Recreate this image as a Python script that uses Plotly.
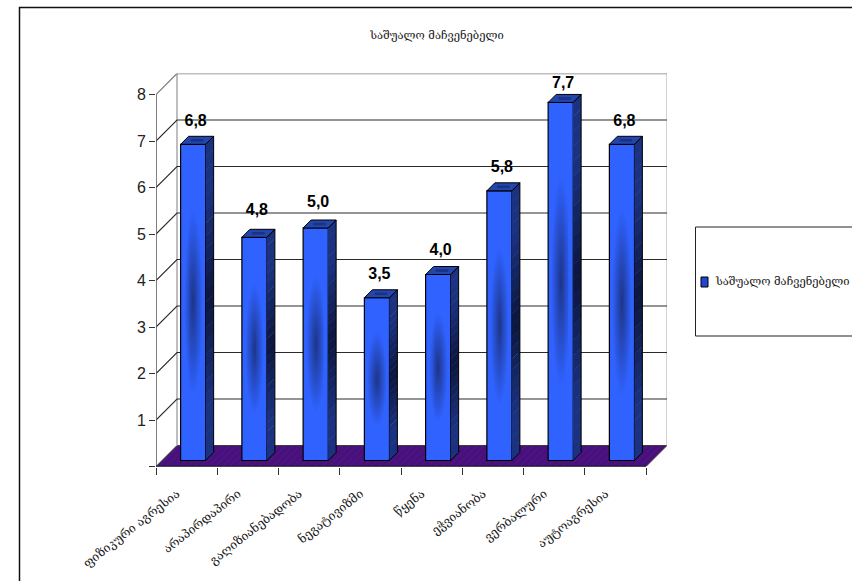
import numpy as np
import plotly.graph_objects as go

# Buss-Durkee subscale means
categories = ["ფიზიკური აგრესია", "არაპირდაპირი", "გაღიზიანებადობა", "ნეგატივიზმი",
              "წყენა", "ეჭვიანობა", "ვერბალური", "აუტოაგრესია"]
values = [6.8, 4.8, 5.0, 3.5, 4.0, 5.8, 7.7, 6.8]
y_ticks = [0, 1, 2, 3, 4, 5, 6, 7, 8]
y_tick_labels = ["", "1", "2", "3", "4", "5", "6", "7", "8"]
title_text = "საშუალო მაჩვენებელი"
series_name = "საშუალო მაჩვენებელი"

W, H = 852, 581
GEO_FONT = "DejaVu Serif"
NUM_FONT = "Liberation Sans, Arial, sans-serif"

# Pixel geometry of the front plane and the oblique depth of the box
PX_X0, PX_Y0 = 156.0, 466.5
PX_PER_CAT, PX_PER_UNIT = 61.25, 46.5
DEPTH_PX = 21.0
x_max = 8 + DEPTH_PX / PX_PER_CAT
y_max = 8 + DEPTH_PX / PX_PER_UNIT
DX, DY = DEPTH_PX / PX_PER_CAT, DEPTH_PX / PX_PER_UNIT

# Bars stand slightly inside the floor and have a shallow depth of their own
bar_dx, bar_dy = 6.5 / PX_PER_CAT, 6.0 / PX_PER_UNIT
bar_w = 25.0 / PX_PER_CAT
side_dx, side_dy = 8.0 / PX_PER_CAT, 8.0 / PX_PER_UNIT
centers = [i + 0.5 + bar_dx for i in range(len(values))]

# Clearance between each bar's front top edge and its value label
label_lift_px = [22, 26, 25, 23, 24, 23, 18, 22]

fig = go.Figure()


def poly(xs, ys, color, axes="", line=None, **kw):
    fig.add_trace(go.Scatter(
        x=xs, y=ys, mode="lines", fill="toself", fillcolor=color,
        line=line or dict(width=0, color=color),
        hoverinfo="skip", showlegend=False,
        xaxis="x" + axes, yaxis="y" + axes, **kw))


def seg(xs, ys, color, width=1.0):
    fig.add_trace(go.Scatter(
        x=xs, y=ys, mode="lines", line=dict(color=color, width=width),
        hoverinfo="skip", showlegend=False))


# Floor
poly([0, 8, 8 + DX, DX, 0], [0, 0, DY, DY, 0], "#47107a",
     line=dict(color="#3c3c3c", width=1),
     fillpattern=dict(shape="/", fgcolor="#551a8e", bgcolor="#47107a",
                      size=5, solidity=0.25))

# Back wall outline and gridlines, with their returns on the left wall
seg([DX, DX], [DY, 8 + DY], "#a8a8a8", 1.5)
seg([8 + DX, 8 + DX], [DY, 8 + DY], "#c4c4c4", 1.5)
seg([DX, 8 + DX], [8 + DY, 8 + DY], "#808080", 1.5)
seg([0, DX], [8, 8 + DY], "#808080", 1.2)
for t in y_ticks[1:-1]:
    seg([0, DX, 8 + DX], [t, t + DY, t + DY], "#2a2a2a", 1.1)
seg([0, 0], [0, 8], "#555555", 1.5)
seg([0, 8], [0, 0], "#111111", 1.5)

# Front faces
fig.add_trace(go.Bar(
    x=centers, y=values, base=bar_dy, width=bar_w, name=series_name,
    marker=dict(color="#2f62ff", line=dict(color="#000000", width=1.2)),
    hoverinfo="skip", showlegend=False, xaxis="x2", yaxis="y2"))

# Side faces: split into bands so they darken towards mid-height
n_bands = 24
for b in range(n_bands):
    t0, t1 = b / n_bands, (b + 1) / n_bands
    k = max(0.0, 1 - abs((t0 + t1) / 2 - 0.5) / 0.33)
    col = "rgb({},{},{})".format(int(26 - 14 * k), int(50 - 28 * k), int(128 - 66 * k))
    xs, ys = [], []
    for c, v in zip(centers, values):
        r = c + bar_w / 2
        lo, hi = bar_dy + v * t0, bar_dy + v * t1 + 0.01
        xs += [r, r + side_dx, r + side_dx, r, r, None]
        ys += [lo, lo + side_dy, hi + side_dy, hi, lo, None]
    poly(xs, ys, col, "2")

# Outlines of side and top faces, plus the top fill
for c, v in zip(centers, values):
    l, r = c - bar_w / 2, c + bar_w / 2
    top = bar_dy + v
    fig.add_trace(go.Scatter(
        x=[r, r + side_dx, r + side_dx, r], y=[bar_dy, bar_dy + side_dy, top + side_dy, top],
        mode="lines", line=dict(color="#000000", width=1), hoverinfo="skip",
        showlegend=False, xaxis="x2", yaxis="y2"))
    poly([l, r, r + side_dx, l + side_dx, l], [top, top, top + side_dy, top + side_dy, top],
         "#2346ad", "2", line=dict(color="#000000", width=1))
    poly([l + 0.25 * bar_w + side_dx / 2, r - 0.25 * bar_w + side_dx / 2,
          r - 0.25 * bar_w + side_dx / 2, l + 0.25 * bar_w + side_dx / 2],
         [top + 0.35 * side_dy, top + 0.35 * side_dy, top + 0.65 * side_dy, top + 0.65 * side_dy],
         "#1a3185", "2")

    # Front-face shading, dark in the middle of the bar; axes take cell edges
    inset_x, inset_y = 1.2 / PX_PER_CAT, 1.2 / PX_PER_UNIT
    n_cols, n_rows = 24, 160
    gx = np.linspace(l + inset_x, r - inset_x, n_cols + 1)
    gy = np.linspace(bar_dy + inset_y, top - inset_y, n_rows + 1)
    u = np.linspace(-1, 1, n_cols)
    w = np.linspace(-1, 1, n_rows)
    shade = np.clip(1 - np.sqrt((u[None, :] / 0.85) ** 2 + (w[:, None] / 0.6) ** 2), 0, 1)
    fig.add_trace(go.Heatmap(
        x=gx, y=gy, z=shade, zmin=0, zmax=1, showscale=False,
        colorscale=[[0, "#2f62ff"], [1, "#1d3488"]], hoverinfo="skip",
        xaxis="x3", yaxis="y3"))

# Value labels above each bar
fig.add_trace(go.Scatter(
    x=[c + 2.5 / PX_PER_CAT for c in centers],
    y=[bar_dy + v + lift / PX_PER_UNIT for v, lift in zip(values, label_lift_px)],
    mode="text", text=[f"{v:.1f}".replace(".", ",") for v in values],
    textposition="middle center", cliponaxis=False,
    textfont=dict(family=NUM_FONT, size=16, color="#000000", weight="bold"),
    hoverinfo="skip", showlegend=False, xaxis="x3", yaxis="y3"))

x_dom = [PX_X0 / W, (PX_X0 + x_max * PX_PER_CAT) / W]
y_dom = [1 - PX_Y0 / H, 1 - (PX_Y0 - y_max * PX_PER_UNIT) / H]

fig.update_layout(
    width=W, height=H, margin=dict(l=0, r=0, t=0, b=0, autoexpand=False),
    paper_bgcolor="#ffffff", plot_bgcolor="rgba(0,0,0,0)", showlegend=False,
    title=dict(text=title_text, x=437 / W, xanchor="center", y=1 - 35 / H, yanchor="middle",
               font=dict(family=GEO_FONT, size=11.2, color="#1a1a1a")),
    xaxis=dict(domain=x_dom, range=[0, x_max], tickmode="array",
               tickvals=list(range(9)), ticktext=[""] * 9, ticks="outside", ticklen=7,
               tickcolor="#333333", showgrid=False, zeroline=False, showline=False),
    yaxis=dict(domain=y_dom, range=[0, y_max], tickmode="array",
               tickvals=y_ticks, ticktext=y_tick_labels, ticks="outside", ticklen=6,
               tickcolor="#333333", showgrid=False, zeroline=False, showline=False,
               tickfont=dict(family=NUM_FONT, size=16, color="#222222")),
    xaxis2=dict(domain=x_dom, range=[0, x_max], overlaying="x", anchor="y2", tickmode="array",
                tickvals=[i + 0.34 for i in range(8)], ticktext=categories, tickangle=-38,
                ticks="", showgrid=False, zeroline=False, showline=False, automargin=False,
                ticklabelstandoff=17,
                tickfont=dict(family=GEO_FONT, size=12.2, color="#1a1a1a")),
    yaxis2=dict(domain=y_dom, range=[0, y_max], overlaying="y", anchor="x2", visible=False),
    xaxis3=dict(domain=x_dom, range=[0, x_max], overlaying="x", anchor="y3", visible=False),
    yaxis3=dict(domain=y_dom, range=[0, y_max], overlaying="y", anchor="x3", visible=False),
    shapes=[
        dict(type="rect", xref="paper", yref="paper", x0=19.5 / W, x1=1.02,
             y0=-0.02, y1=1 - 7.5 / H, line=dict(color="#111111", width=1.5), layer="below"),
        dict(type="rect", xref="paper", yref="paper", x0=695.5 / W, x1=1.02,
             y0=1 - 336 / H, y1=1 - 227 / H, line=dict(color="#222222", width=1), layer="below"),
        # Legend swatch
        dict(type="rect", xref="paper", yref="paper", x0=701 / W, x1=708 / W,
             y0=1 - 287 / H, y1=1 - 277 / H, fillcolor="#2346d0",
             line=dict(color="#000000", width=1)),
    ],
    annotations=[
        dict(text=series_name, xref="paper", yref="paper", x=713 / W, y=1 - 282 / H,
             xanchor="left", yanchor="middle", showarrow=False,
             font=dict(family=GEO_FONT, size=11.2, color="#1a1a1a")),
    ],
)

fig.write_html("out.html")
